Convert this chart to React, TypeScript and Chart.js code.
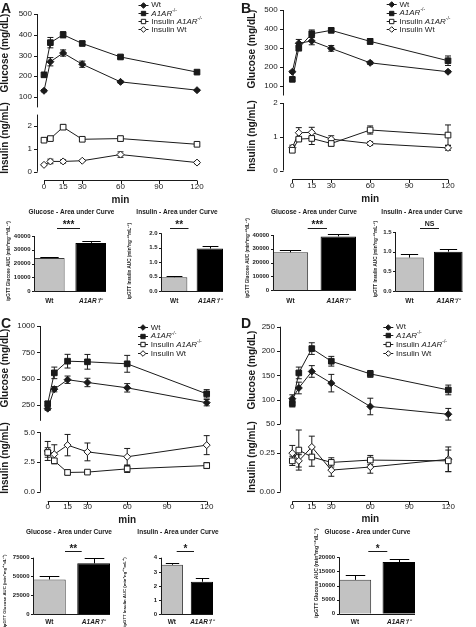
import React, { useEffect, useRef } from "react";
import { Chart, registerables } from "chart.js";
Chart.register(...registerables);

const FONT = "'Liberation Sans', Arial, Helvetica, sans-serif";
const INK = "#1a1a1a";

// ---------- shared ----------
const times = [0, 5, 15, 30, 60, 120];
const timeTicks = [0, 15, 30, 60, 90, 120];
const barLabels = ["Wt", "A1AR⁻/⁻"];

// ---------- Panel A ----------
const aGluWt = [130, 270, 312, 258, 173, 133];
const aGluWtErr = [5, 20, 15, 15, 5, 3];
const aGluKo = [207, 362, 400, 358, 293, 220];
const aGluKoErr = [10, 25, 15, 10, 8, 5];
const aInsKo = [1.38, 1.45, 1.95, 1.42, 1.45, 1.2];
const aInsKoErr = [0.1, 0.07, 0.1, 0.08, 0.1, 0.05];
const aInsWt = [0.3, 0.45, 0.45, 0.48, 0.75, 0.4];
const aInsWtErr = [0.03, 0.1, 0.07, 0.03, 0.12, 0.05];
const aGluAuc = [24000, 35000];
const aGluAucErr = [1000, 1500];
const aInsAuc = [0.48, 1.47];
const aInsAucErr = [0.05, 0.1];

// ---------- Panel B ----------
const bGluWt = [175, 325, 337, 298, 222, 175];
const bGluWtErr = [5, 20, 20, 15, 8, 5];
const bGluKo = [135, 300, 375, 393, 335, 233];
const bGluKoErr = [8, 15, 20, 12, 15, 25];
const bInsKo = [0.6, 0.93, 0.95, 0.8, 1.2, 1.05];
const bInsKoErr = [0.05, 0.05, 0.18, 0.07, 0.12, 0.3];
const bInsWt = [0.68, 1.12, 1.13, 0.93, 0.8, 0.67];
const bInsWtErr = [0.07, 0.15, 0.15, 0.1, 0.05, 0.07];
const bGluAuc = [27500, 39000];
const bGluAucErr = [1800, 1500];
const bInsAuc = [0.85, 1.0];
const bInsAucErr = [0.08, 0.07];

// ---------- Panel C ----------
const cGluWt = [215, 400, 490, 464, 413, 272];
const cGluWtErr = [15, 25, 35, 40, 40, 30];
const cGluKo = [262, 555, 666, 660, 641, 356];
const cGluKoErr = [20, 55, 65, 70, 80, 40];
const cInsKo = [3.3, 2.6, 1.62, 1.65, 1.92, 2.2];
const cInsKoErr = [0.4, 0.15, 0.2, 0.1, 0.3, 0.25];
const cInsWt = [3.43, 3.15, 3.92, 3.35, 2.94, 3.92];
const cInsWtErr = [0.8, 0.8, 0.9, 0.75, 0.7, 0.8];
const cGluAuc = [46000, 67500];
const cGluAucErr = [4000, 7500];
const cInsAuc = [3.5, 2.3];
const cInsAucErr = [0.15, 0.25];

// ---------- Panel D ----------
const dGluWt = [102, 124, 158, 134, 86, 70];
const dGluWtErr = [8, 12, 12, 18, 17, 12];
const dGluKo = [92, 155, 205, 179, 153, 120];
const dGluKoErr = [7, 12, 12, 10, 7, 10];
const dInsKo = [0.2, 0.27, 0.225, 0.19, 0.205, 0.2];
const dInsKoErr = [0.03, 0.13, 0.06, 0.03, 0.03, 0.07];
const dInsWt = [0.25, 0.2, 0.29, 0.14, 0.16, 0.21];
const dInsWtErr = [0.05, 0.04, 0.07, 0.04, 0.04, 0.08];
const dGluAuc = [12000, 18300];
const dGluAucErr = [1700, 1000];

// ---------- tick lists ----------
const gluTicksAB = [100, 200, 300, 400, 500];
const gluTicksC = [250, 500, 750, 1000];
const gluTicksD = [50, 100, 150, 200, 250];
const insTicksAB = [0, 1, 2];
const insTicksC = [0, 2.5, 5];
const insTicksD = [0, 0.25];
const aucGluTicks = [0, 10000, 20000, 30000, 40000];
const aucGluTicksC = [0, 25000, 50000, 75000];
const aucGluTicksD = [0, 5000, 10000, 15000, 20000];
const aucInsTicksA = [0, 0.5, 1, 1.5, 2];
const aucInsTicksB = [0, 0.5, 1, 1.5];
const aucInsTicksC = [0, 1, 2, 3, 4];

type Mark = "wt" | "ko" | "insKo" | "insWt";
type Seg = { t: string; i?: boolean; sup?: boolean };
const legendMarks: Mark[] = ["wt", "ko", "insKo", "insWt"];
const legendTexts: Seg[][] = [
  [{ t: "Wt" }],
  [{ t: "A1AR", i: true }, { t: "-/-", sup: true }],
  [{ t: "Insulin " }, { t: "A1AR", i: true }, { t: "-/-", sup: true }],
  [{ t: "Insulin Wt" }],
];

function isDiamond(m: Mark) {
  return m === "wt" || m === "insWt";
}
function isFilled(m: Mark) {
  return m === "wt" || m === "ko";
}

function drawMark(ctx: CanvasRenderingContext2D, m: Mark, x: number, y: number, r: number) {
  ctx.beginPath();
  if (isDiamond(m)) {
    ctx.moveTo(x, y - r);
    ctx.lineTo(x + r, y);
    ctx.lineTo(x, y + r);
    ctx.lineTo(x - r, y);
    ctx.closePath();
  } else {
    const h = r * 0.78;
    ctx.rect(x - h, y - h, 2 * h, 2 * h);
  }
  ctx.fillStyle = isFilled(m) ? INK : "#fff";
  ctx.fill();
  ctx.strokeStyle = INK;
  ctx.lineWidth = 1;
  ctx.stroke();
}

function drawSegs(ctx: CanvasRenderingContext2D, segs: Seg[], x: number, y: number, size: number) {
  let cx = x;
  ctx.textAlign = "left";
  ctx.textBaseline = "middle";
  ctx.fillStyle = INK;
  for (const s of segs) {
    const sz = s.sup ? size * 0.62 : size;
    ctx.font = `${s.i ? "italic " : ""}${sz}px ${FONT}`;
    ctx.fillText(s.t, cx, s.sup ? y - size * 0.38 : y);
    cx += ctx.measureText(s.t).width;
  }
}

function drawRotText(ctx: CanvasRenderingContext2D, text: string, x: number, y: number, font: string) {
  ctx.save();
  ctx.translate(x, y);
  ctx.rotate(-Math.PI / 2);
  ctx.font = font;
  ctx.fillStyle = INK;
  ctx.textAlign = "center";
  ctx.textBaseline = "middle";
  ctx.fillText(text, 0, 0);
  ctx.restore();
}

type Box = { left: number; top: number; width: number; height: number };
type Series = { y: number[]; err: number[]; mark: Mark };
type TimeCfg = {
  canvasLeft: number; canvasRight: number;
  left: number; right: number; axisX: number; top: number; bottom: number;
  yMin: number; yMax: number; yTicks: number[]; yDec: number;
  title: string; titleX: number; titleY: number;
  series: Series[];
  xAxis?: { lineY: number; labelY: number; minY: number; canvasBottom: number };
  legend?: { x: number; y: number; gap: number };
};

function makeTime(c: TimeCfg) {
  const yPad = c.left - c.axisX + 5;
  const margin = yPad + 7;
  const canvasTop = Math.floor(c.top - margin);
  const canvasBottom = c.xAxis ? c.xAxis.canvasBottom : Math.ceil(c.bottom + margin);
  const box: Box = { left: c.canvasLeft, top: canvasTop, width: c.canvasRight - c.canvasLeft, height: canvasBottom - canvasTop };
  const yW = c.left - c.canvasLeft;
  const padT = c.top - canvasTop;
  const padR = c.canvasRight - c.right;
  const below = canvasBottom - c.bottom;
  const ox = c.canvasLeft, oy = canvasTop;
  const plugin = {
    id: "gpTime",
    beforeDatasetsDraw(chart: any) {
      const ctx: CanvasRenderingContext2D = chart.ctx;
      const xs = chart.scales.x, ys = chart.scales.y;
      ctx.save();
      ctx.strokeStyle = INK;
      ctx.lineWidth = 1;
      const ax = Math.round(c.axisX - ox) + 0.5;
      ctx.beginPath();
      ctx.moveTo(ax, ys.getPixelForValue(c.yMax));
      ctx.lineTo(ax, ys.getPixelForValue(c.yMin));
      for (const t of c.yTicks) {
        const py = Math.round(ys.getPixelForValue(t)) + 0.5;
        ctx.moveTo(ax - 3.5, py);
        ctx.lineTo(ax, py);
      }
      ctx.stroke();
      if (c.xAxis) {
        const ly = Math.round(c.xAxis.lineY - oy) + 0.5;
        ctx.beginPath();
        ctx.moveTo(xs.getPixelForValue(0), ly);
        ctx.lineTo(xs.getPixelForValue(120), ly);
        for (const t of timeTicks) {
          const px = Math.round(xs.getPixelForValue(t)) + 0.5;
          ctx.moveTo(px, ly);
          ctx.lineTo(px, ly + 3.5);
        }
        ctx.stroke();
      }
      // error bars
      chart.data.datasets.forEach((ds: any, i: number) => {
        const meta = chart.getDatasetMeta(i);
        ctx.beginPath();
        meta.data.forEach((pt: any, j: number) => {
          const v = ds.data[j].y;
          const e = ds.errors[j];
          const y1 = ys.getPixelForValue(v + e);
          const y2 = ys.getPixelForValue(v - e);
          const x = pt.x;
          ctx.moveTo(x, y1);
          ctx.lineTo(x, y2);
          ctx.moveTo(x - 3, y1);
          ctx.lineTo(x + 3, y1);
          ctx.moveTo(x - 3, y2);
          ctx.lineTo(x + 3, y2);
        });
        ctx.stroke();
      });
      ctx.restore();
    },
    afterDraw(chart: any) {
      const ctx: CanvasRenderingContext2D = chart.ctx;
      drawRotText(ctx, c.title, c.titleX - ox, c.titleY - oy, `bold 10px ${FONT}`);
      if (c.legend) {
        const L = c.legend;
        legendMarks.forEach((m, k) => {
          const y = L.y - oy + k * L.gap;
          const x = L.x - ox;
          ctx.save();
          ctx.strokeStyle = INK;
          ctx.lineWidth = 1;
          ctx.beginPath();
          ctx.moveTo(x, Math.round(y) + 0.5);
          ctx.lineTo(x + 10, Math.round(y) + 0.5);
          ctx.stroke();
          drawMark(ctx, m, x + 5, Math.round(y) + 0.5, 2.8);
          drawSegs(ctx, legendTexts[k], x + 12.8, y + 0.5, 8);
          ctx.restore();
        });
      }
    },
  };
  const make = () => ({
    type: "line",
    data: {
      datasets: c.series.map((s) => ({
        data: times.map((t, i) => ({ x: t, y: s.y[i] })),
        errors: s.err,
        borderColor: INK,
        borderWidth: 1,
        pointStyle: isDiamond(s.mark) ? "rectRot" : "rect",
        pointRadius: isDiamond(s.mark) ? 3.5 : 4,
        pointBackgroundColor: isFilled(s.mark) ? INK : "#fff",
        pointBorderColor: INK,
        pointBorderWidth: 1,
        tension: 0,
        fill: false,
        clip: false,
      })),
    },
    options: {
      responsive: false,
      animation: false,
      devicePixelRatio: 1,
      events: [],
      layout: { padding: { left: 0, top: padT, right: padR, bottom: c.xAxis ? 0 : below } },
      plugins: { legend: { display: false }, tooltip: { enabled: false }, title: { display: false } },
      scales: {
        x: {
          type: "linear",
          min: 0,
          max: 120,
          display: !!c.xAxis,
          afterBuildTicks: (s: any) => {
            s.ticks = timeTicks.map((v) => ({ value: v }));
          },
          afterFit: (s: any) => {
            if (c.xAxis) s.height = below;
          },
          grid: { display: false, drawTicks: false },
          border: { display: false },
          ticks: {
            autoSkip: false,
            maxRotation: 0,
            color: INK,
            font: { family: FONT, size: 8 },
            padding: c.xAxis ? c.xAxis.labelY - c.bottom - 4.8 : 0,
          },
          title: {
            display: !!c.xAxis,
            text: "min",
            color: INK,
            font: { family: FONT, size: 10, weight: "bold" },
            padding: { top: 0, bottom: c.xAxis ? canvasBottom - c.xAxis.minY - 6 : 0 },
          },
        },
        y: {
          type: "linear",
          min: c.yMin,
          max: c.yMax,
          afterBuildTicks: (s: any) => {
            s.ticks = c.yTicks.map((v) => ({ value: v }));
          },
          afterFit: (s: any) => {
            s.width = yW;
          },
          grid: { display: false, drawTicks: false },
          border: { display: false },
          ticks: {
            autoSkip: false,
            color: INK,
            font: { family: FONT, size: 8 },
            padding: yPad,
            callback: (v: any) => Number(v).toFixed(c.yDec),
          },
        },
      },
    },
    plugins: [plugin],
  });
  return { box, make };
}

type BarCfg = {
  canvasLeft: number; canvasRight: number; canvasTop: number; canvasBottom: number;
  axisX: number; right: number; top: number; bottom: number;
  vals: number[]; errs: number[]; yMax: number; yTicks: number[]; yDec: number;
  yTitle: string; yTitleX: number; yTitleY: number; yTitleSize: number;
  title: string; titleX: number; titleY: number;
  sig: string; sigX1: number; sigX2: number; sigLineY: number; sigBase: number;
  labelY: number;
};

const BP = 0.74;

function makeBar(c: BarCfg) {
  const box: Box = { left: c.canvasLeft, top: c.canvasTop, width: c.canvasRight - c.canvasLeft, height: c.canvasBottom - c.canvasTop };
  const yW = c.axisX - c.canvasLeft;
  const padT = c.top - c.canvasTop;
  const padR = c.canvasRight - c.right;
  const below = c.canvasBottom - c.bottom;
  const ox = c.canvasLeft, oy = c.canvasTop;
  const plugin = {
    id: "gpBar",
    afterDatasetsDraw(chart: any) {
      const ctx: CanvasRenderingContext2D = chart.ctx;
      const ys = chart.scales.y;
      const area = chart.chartArea;
      ctx.save();
      ctx.strokeStyle = "#000";
      ctx.lineWidth = 1;
      const meta = chart.getDatasetMeta(0);
      ctx.beginPath();
      meta.data.forEach((bar: any, i: number) => {
        const v = c.vals[i], e = c.errs[i];
        const yt = Math.round(ys.getPixelForValue(v + e)) + 0.5;
        const yv = ys.getPixelForValue(v);
        const x = Math.round(bar.x) + 0.5;
        const w = bar.width;
        ctx.moveTo(x, yv);
        ctx.lineTo(x, yt);
        ctx.moveTo(x - w * 0.3, yt);
        ctx.lineTo(x + w * 0.3, yt);
      });
      ctx.stroke();
      const ax = Math.round(area.left) + 0.5;
      const by = Math.round(ys.getPixelForValue(0)) + 0.5;
      ctx.strokeStyle = INK;
      ctx.beginPath();
      ctx.moveTo(ax, ys.getPixelForValue(c.yMax));
      ctx.lineTo(ax, by);
      ctx.lineTo(area.right, by);
      for (const t of c.yTicks) {
        const py = Math.round(ys.getPixelForValue(t)) + 0.5;
        ctx.moveTo(ax - 2.5, py);
        ctx.lineTo(ax, py);
      }
      // significance line
      const sy = Math.round(c.sigLineY - oy) + 0.5;
      ctx.moveTo(c.sigX1 - ox, sy);
      ctx.lineTo(c.sigX2 - ox, sy);
      ctx.stroke();
      ctx.fillStyle = INK;
      ctx.textAlign = "center";
      ctx.textBaseline = "alphabetic";
      ctx.font = c.sig === "NS" ? `bold 7px ${FONT}` : `bold 10px ${FONT}`;
      ctx.fillText(c.sig, (c.sigX1 + c.sigX2) / 2 - ox, c.sigBase - oy);
      ctx.font = `bold 6.5px ${FONT}`;
      ctx.textBaseline = "middle";
      ctx.fillText(c.title, c.titleX - ox, c.titleY - oy);
      ctx.restore();
      drawRotText(ctx, c.yTitle, c.yTitleX - ox, c.yTitleY - oy, `bold ${c.yTitleSize}px ${FONT}`);
    },
  };
  const make = () => ({
    type: "bar",
    data: {
      datasets: [
        {
          data: c.vals.map((v, i) => ({ x: i, y: v })),
          backgroundColor: ["#c2c2c2", "#000000"],
          borderColor: ["#3a3a3a", "#000000"],
          borderWidth: 1,
          barPercentage: BP,
          categoryPercentage: 1,
        },
      ],
    },
    options: {
      responsive: false,
      animation: false,
      devicePixelRatio: 1,
      events: [],
      layout: { padding: { left: 0, top: padT, right: padR, bottom: 0 } },
      plugins: { legend: { display: false }, tooltip: { enabled: false }, title: { display: false } },
      scales: {
        x: {
          type: "linear",
          offset: false,
          min: -BP / 2,
          max: 1 + BP / 2,
          afterBuildTicks: (s: any) => {
            s.ticks = [{ value: 0 }, { value: 1 }];
          },
          afterFit: (s: any) => {
            s.height = below;
          },
          grid: { display: false, drawTicks: false },
          border: { display: false },
          ticks: {
            autoSkip: false,
            maxRotation: 0,
            color: INK,
            padding: c.labelY - c.bottom - 3.9,
            font: (ctx: any) => ({ family: FONT, size: 6.5, weight: "bold", style: ctx.index === 1 ? "italic" : "normal" }),
            callback: (v: any) => barLabels[Math.round(Number(v))],
          },
        },
        y: {
          type: "linear",
          min: 0,
          max: c.yMax,
          afterBuildTicks: (s: any) => {
            s.ticks = c.yTicks.map((v) => ({ value: v }));
          },
          afterFit: (s: any) => {
            s.width = yW;
          },
          grid: { display: false, drawTicks: false },
          border: { display: false },
          ticks: {
            autoSkip: false,
            color: INK,
            padding: 3.5,
            font: { family: FONT, size: 6, weight: "bold" },
            callback: (v: any) => Number(v).toFixed(c.yDec),
          },
        },
      },
    },
    plugins: [plugin],
  });
  return { box, make };
}

const GLU_AUC_TITLE = "ipGTT Glucose AUC (min*mg⁻¹*dL⁻¹)";
const INS_AUC_TITLE = "ipGTT Insulin AUC (min*ng⁻¹*mL⁻¹)";

const charts = [
  // ----- A -----
  makeTime({
    canvasLeft: 0, canvasRight: 236,
    left: 44, right: 197, axisX: 37, top: 14, bottom: 107.4,
    yMin: 50, yMax: 500, yTicks: gluTicksAB, yDec: 0,
    title: "Glucose (mg/dL)", titleX: 5.5, titleY: 53,
    series: [{ y: aGluWt, err: aGluWtErr, mark: "wt" }, { y: aGluKo, err: aGluKoErr, mark: "ko" }],
    legend: { x: 138.5, y: 4.5, gap: 8.3 },
  }),
  makeTime({
    canvasLeft: 0, canvasRight: 236,
    left: 44, right: 197, axisX: 37, top: 114.6, bottom: 171.7,
    yMin: 0, yMax: 2.5, yTicks: insTicksAB, yDec: 0,
    title: "Insulin (ng/mL)", titleX: 5.5, titleY: 138,
    series: [{ y: aInsKo, err: aInsKoErr, mark: "insKo" }, { y: aInsWt, err: aInsWtErr, mark: "insWt" }],
    xAxis: { lineY: 180, labelY: 187, minY: 200, canvasBottom: 210 },
  }),
  makeBar({
    canvasLeft: 0, canvasRight: 114, canvasTop: 204, canvasBottom: 308,
    axisX: 34, right: 106, top: 236, bottom: 291,
    vals: aGluAuc, errs: aGluAucErr, yMax: 40000, yTicks: aucGluTicks, yDec: 0,
    yTitle: GLU_AUC_TITLE, yTitleX: 8.3, yTitleY: 261, yTitleSize: 4.6,
    title: "Glucose - Area under Curve", titleX: 71.5, titleY: 212,
    sig: "***", sigX1: 57, sigX2: 80, sigLineY: 227.5, sigBase: 228,
    labelY: 301,
  }),
  makeBar({
    canvasLeft: 120, canvasRight: 232, canvasTop: 204, canvasBottom: 308,
    axisX: 161, right: 223, top: 233.3, bottom: 291,
    vals: aInsAuc, errs: aInsAucErr, yMax: 2, yTicks: aucInsTicksA, yDec: 1,
    yTitle: INS_AUC_TITLE, yTitleX: 130, yTitleY: 261, yTitleSize: 4.6,
    title: "Insulin - Area under Curve", titleX: 177, titleY: 212,
    sig: "**", sigX1: 170, sigX2: 188.5, sigLineY: 227.5, sigBase: 228,
    labelY: 301,
  }),
  // ----- B -----
  makeTime({
    canvasLeft: 240, canvasRight: 476,
    left: 292.3, right: 448, axisX: 282.7, top: 10, bottom: 95.5,
    yMin: 50, yMax: 500, yTicks: gluTicksAB, yDec: 0,
    title: "Glucose (mg/dL)", titleX: 252, titleY: 49,
    series: [{ y: bGluWt, err: bGluWtErr, mark: "wt" }, { y: bGluKo, err: bGluKoErr, mark: "ko" }],
    legend: { x: 386.7, y: 4.2, gap: 8.4 },
  }),
  makeTime({
    canvasLeft: 240, canvasRight: 476,
    left: 292.3, right: 448, axisX: 282.7, top: 103, bottom: 170.5,
    yMin: 0, yMax: 2, yTicks: insTicksAB, yDec: 0,
    title: "Insulin (ng/mL)", titleX: 252, titleY: 136,
    series: [{ y: bInsKo, err: bInsKoErr, mark: "insKo" }, { y: bInsWt, err: bInsWtErr, mark: "insWt" }],
    xAxis: { lineY: 179, labelY: 186, minY: 199, canvasBottom: 210 },
  }),
  makeBar({
    canvasLeft: 240, canvasRight: 364, canvasTop: 204, canvasBottom: 308,
    axisX: 272.7, right: 356, top: 235, bottom: 290.3,
    vals: bGluAuc, errs: bGluAucErr, yMax: 40000, yTicks: aucGluTicks, yDec: 0,
    yTitle: GLU_AUC_TITLE, yTitleX: 247.3, yTitleY: 258, yTitleSize: 4.6,
    title: "Glucose - Area under Curve", titleX: 314, titleY: 212,
    sig: "***", sigX1: 307.7, sigX2: 327, sigLineY: 227.5, sigBase: 228,
    labelY: 301,
  }),
  makeBar({
    canvasLeft: 368, canvasRight: 472, canvasTop: 204, canvasBottom: 308,
    axisX: 395, right: 462.7, top: 232, bottom: 291,
    vals: bInsAuc, errs: bInsAucErr, yMax: 1.5, yTicks: aucInsTicksB, yDec: 1,
    yTitle: INS_AUC_TITLE, yTitleX: 376, yTitleY: 259, yTitleSize: 4.6,
    title: "Insulin - Area under Curve", titleX: 422, titleY: 212,
    sig: "NS", sigX1: 420, sigX2: 439, sigLineY: 227.5, sigBase: 225.5,
    labelY: 301,
  }),
  // ----- C -----
  makeTime({
    canvasLeft: 0, canvasRight: 236,
    left: 47.7, right: 206.7, axisX: 40, top: 326, bottom: 420.8,
    yMin: 100, yMax: 1000, yTicks: gluTicksC, yDec: 0,
    title: "Glucose (mg/dL)", titleX: 5, titleY: 368,
    series: [{ y: cGluWt, err: cGluWtErr, mark: "wt" }, { y: cGluKo, err: cGluKoErr, mark: "ko" }],
    legend: { x: 138, y: 327, gap: 8.7 },
  }),
  makeTime({
    canvasLeft: 0, canvasRight: 236,
    left: 47.7, right: 206.7, axisX: 40, top: 432.3, bottom: 491.7,
    yMin: 0, yMax: 5, yTicks: insTicksC, yDec: 1,
    title: "Insulin (ng/mL)", titleX: 5, titleY: 458,
    series: [{ y: cInsKo, err: cInsKoErr, mark: "insKo" }, { y: cInsWt, err: cInsWtErr, mark: "insWt" }],
    xAxis: { lineY: 501, labelY: 507, minY: 520, canvasBottom: 530 },
  }),
  makeBar({
    canvasLeft: 0, canvasRight: 116, canvasTop: 524, canvasBottom: 627,
    axisX: 33, right: 110, top: 557.7, bottom: 614,
    vals: cGluAuc, errs: cGluAucErr, yMax: 75000, yTicks: aucGluTicksC, yDec: 0,
    yTitle: GLU_AUC_TITLE, yTitleX: 5, yTitleY: 591, yTitleSize: 4.3,
    title: "Glucose - Area under Curve", titleX: 69, titleY: 532.7,
    sig: "**", sigX1: 65, sigX2: 81.7, sigLineY: 551, sigBase: 551.5,
    labelY: 622,
  }),
  makeBar({
    canvasLeft: 118, canvasRight: 222, canvasTop: 524, canvasBottom: 627,
    axisX: 160.7, right: 213, top: 557.7, bottom: 614.3,
    vals: cInsAuc, errs: cInsAucErr, yMax: 4, yTicks: aucInsTicksC, yDec: 0,
    yTitle: INS_AUC_TITLE, yTitleX: 125, yTitleY: 592, yTitleSize: 4.3,
    title: "Insulin - Area under Curve", titleX: 178, titleY: 532.7,
    sig: "*", sigX1: 176.7, sigX2: 194, sigLineY: 551, sigBase: 552,
    labelY: 622,
  }),
  // ----- D -----
  makeTime({
    canvasLeft: 240, canvasRight: 476,
    left: 292.3, right: 448.3, axisX: 280, top: 326.7, bottom: 424,
    yMin: 50, yMax: 250, yTicks: gluTicksD, yDec: 0,
    title: "Glucose (mg/dL)", titleX: 252, titleY: 370,
    series: [{ y: dGluWt, err: dGluWtErr, mark: "wt" }, { y: dGluKo, err: dGluKoErr, mark: "ko" }],
    legend: { x: 383.3, y: 326.7, gap: 8.8 },
  }),
  makeTime({
    canvasLeft: 240, canvasRight: 476,
    left: 292.3, right: 448.3, axisX: 280, top: 430, bottom: 491.7,
    yMin: 0, yMax: 0.4, yTicks: insTicksD, yDec: 2,
    title: "Insulin (ng/mL)", titleX: 252, titleY: 457,
    series: [{ y: dInsKo, err: dInsKoErr, mark: "insKo" }, { y: dInsWt, err: dInsWtErr, mark: "insWt" }],
    xAxis: { lineY: 501, labelY: 507, minY: 519, canvasBottom: 530 },
  }),
  makeBar({
    canvasLeft: 305, canvasRight: 422, canvasTop: 524, canvasBottom: 627,
    axisX: 338.7, right: 415, top: 557.3, bottom: 613.7,
    vals: dGluAuc, errs: dGluAucErr, yMax: 20000, yTicks: aucGluTicksD, yDec: 0,
    yTitle: GLU_AUC_TITLE, yTitleX: 316.7, yTitleY: 573, yTitleSize: 5.2,
    title: "Glucose - Area under Curve", titleX: 367.5, titleY: 532.7,
    sig: "*", sigX1: 368.3, sigX2: 387.3, sigLineY: 551, sigBase: 552,
    labelY: 622,
  }),
];

const panelLetters = [
  { t: "A", x: 1, y: 3 },
  { t: "B", x: 241, y: 3 },
  { t: "C", x: 1, y: 318 },
  { t: "D", x: 241, y: 318 },
];

function ChartCanvas({ box, make }: { box: Box; make: () => any }) {
  const ref = useRef<HTMLCanvasElement>(null);
  useEffect(() => {
    const chart = new Chart(ref.current as HTMLCanvasElement, make());
    return () => chart.destroy();
  }, []);
  return (
    <canvas
      ref={ref}
      width={box.width}
      height={box.height}
      style={{ position: "absolute", left: box.left, top: box.top, width: box.width, height: box.height }}
    />
  );
}

export default function App() {
  return (
    <div style={{ position: "absolute", left: 0, top: 0, width: 476, height: 627, background: "#fff", overflow: "hidden" }}>
      {charts.map((c, i) => (
        <ChartCanvas key={i} box={c.box} make={c.make} />
      ))}
      {panelLetters.map((p) => (
        <div
          key={p.t}
          style={{ position: "absolute", left: p.x, top: p.y - 2, fontFamily: FONT, fontWeight: "bold", fontSize: 14, lineHeight: "14px", color: INK }}
        >
          {p.t}
        </div>
      ))}
    </div>
  );
}
